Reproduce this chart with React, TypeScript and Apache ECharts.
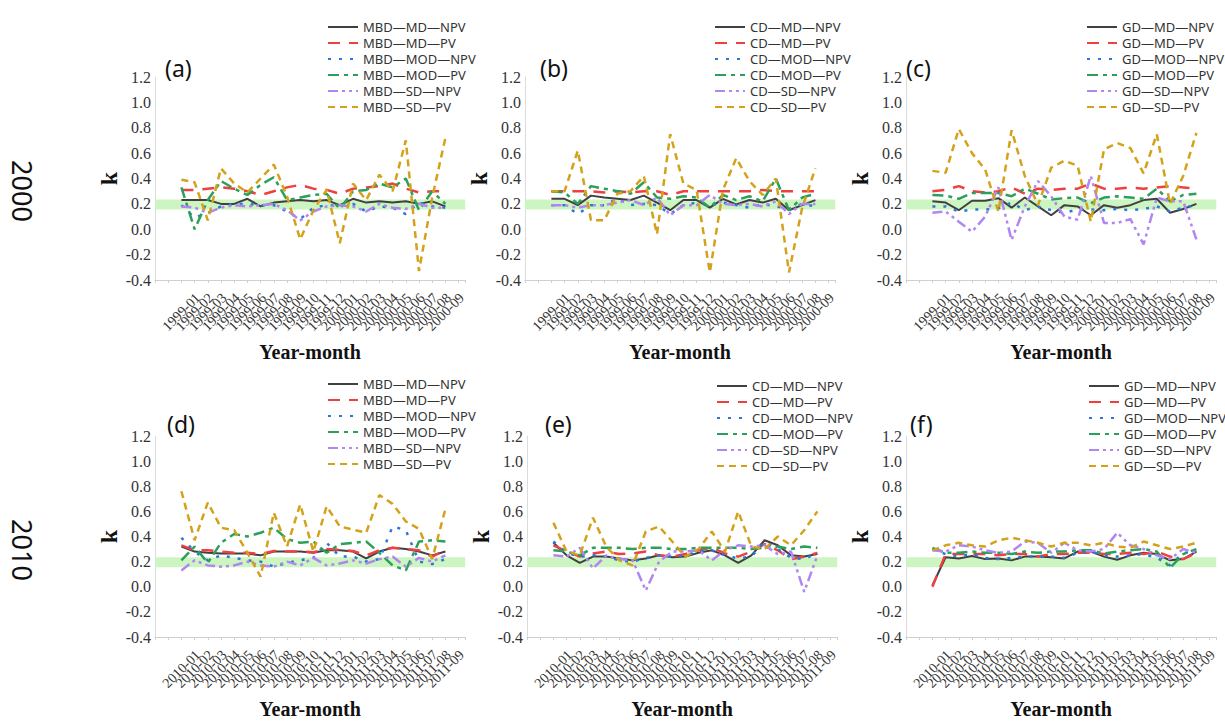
import React, { useEffect, useRef } from "react";
import * as echarts from "echarts";

const cats2000 = ["1999-01","1999-02","1999-03","1999-04","1999-05","1999-06","1999-07","1999-08","1999-09","1999-10","1999-11","1999-12","2000-01","2000-02","2000-03","2000-04","2000-05","2000-06","2000-07","2000-08","2000-09"];
const cats2010 = ["2010-01","2010-02","2010-03","2010-04","2010-05","2010-06","2010-07","2010-08","2010-09","2010-10","2010-11","2010-12","2011-01","2011-02","2011-03","2011-04","2011-05","2011-06","2011-07","2011-08","2011-09"];
const yTicks = [-0.4, -0.2, 0.0, 0.2, 0.4, 0.6, 0.8, 1.0, 1.2];
const suffixes = ["MD—NPV", "MD—PV", "MOD—NPV", "MOD—PV", "SD—NPV", "SD—PV"];
const bandRange = [0.155, 0.235];

// (a) MBD 2000
const aMdNpv = [0.23,0.23,0.23,0.20,0.20,0.24,0.18,0.21,0.22,0.23,0.22,0.23,0.19,0.24,0.21,0.22,0.21,0.22,0.20,0.22,0.18];
const aMdPv = [0.31,0.31,0.32,0.33,0.32,0.30,0.27,0.30,0.33,0.35,0.32,0.31,0.28,0.32,0.33,0.34,0.36,0.32,0.29,0.30,0.30];
const aModNpv = [0.19,0.09,0.13,0.18,0.20,0.20,0.19,0.19,0.14,0.08,0.17,0.19,0.19,0.20,0.14,0.18,0.17,0.12,0.21,0.18,0.17];
const aModPv = [0.33,0.00,0.23,0.38,0.32,0.27,0.35,0.41,0.23,0.25,0.27,0.28,0.16,0.30,0.31,0.36,0.33,0.40,0.15,0.30,0.20];
const aSdNpv = [0.18,0.17,0.13,0.17,0.19,0.18,0.19,0.20,0.15,0.07,0.14,0.18,0.19,0.18,0.14,0.20,0.17,0.16,0.20,0.17,0.17];
const aSdPv = [0.39,0.37,0.07,0.48,0.36,0.29,0.40,0.51,0.26,-0.08,0.15,0.31,-0.11,0.36,0.23,0.43,0.30,0.70,-0.33,0.25,0.72];

// (b) CD 2000
const bMdNpv = [0.24,0.24,0.19,0.265,0.25,0.24,0.23,0.265,0.21,0.15,0.23,0.23,0.17,0.24,0.195,0.23,0.21,0.24,0.15,0.19,0.23];
const bMdPv = [0.30,0.30,0.30,0.30,0.29,0.30,0.29,0.30,0.30,0.27,0.30,0.30,0.30,0.30,0.30,0.30,0.31,0.30,0.30,0.30,0.30];
const bModNpv = [0.19,0.19,0.12,0.19,0.19,0.24,0.19,0.20,0.19,0.12,0.19,0.21,0.19,0.21,0.19,0.17,0.20,0.18,0.16,0.20,0.18];
const bModPv = [0.30,0.29,0.20,0.34,0.32,0.30,0.28,0.37,0.25,0.24,0.26,0.25,0.17,0.27,0.23,0.26,0.22,0.40,0.15,0.25,0.28];
const bSdNpv = [0.19,0.19,0.17,0.19,0.19,0.21,0.23,0.19,0.25,0.11,0.19,0.19,0.27,0.20,0.19,0.20,0.18,0.22,0.12,0.20,0.20];
const bSdPv = [0.30,0.30,0.62,0.07,0.07,0.28,0.30,0.42,-0.04,0.75,0.36,0.31,-0.34,0.31,0.56,0.38,0.27,0.40,-0.34,0.17,0.48];

// (c) GD 2000
const cMdNpv = [0.22,0.21,0.15,0.225,0.225,0.245,0.17,0.25,0.18,0.11,0.19,0.18,0.11,0.19,0.17,0.19,0.23,0.24,0.13,0.16,0.20];
const cMdPv = [0.30,0.31,0.34,0.30,0.29,0.30,0.33,0.28,0.32,0.31,0.32,0.32,0.36,0.32,0.32,0.33,0.32,0.33,0.34,0.33,0.32];
const cModNpv = [0.18,0.18,0.14,0.155,0.155,0.165,0.21,0.15,0.18,0.15,0.13,0.155,0.155,0.15,0.16,0.15,0.16,0.18,0.14,0.17,0.19];
const cModPv = [0.27,0.265,0.24,0.285,0.285,0.285,0.26,0.32,0.28,0.235,0.245,0.25,0.205,0.25,0.26,0.25,0.24,0.32,0.22,0.27,0.28];
const cSdNpv = [0.13,0.14,0.06,-0.02,0.10,0.33,-0.085,0.18,0.38,0.26,0.10,0.075,0.42,0.05,0.05,0.08,-0.12,0.25,0.22,0.22,-0.08];
const cSdPv = [0.46,0.445,0.79,0.60,0.47,0.14,0.78,0.42,0.19,0.485,0.54,0.50,0.06,0.63,0.68,0.64,0.44,0.75,0.20,0.42,0.76];

// (d) MBD 2010
const dMdNpv = [0.32,0.28,0.27,0.265,0.265,0.265,0.25,0.28,0.28,0.28,0.27,0.29,0.29,0.28,0.225,0.28,0.31,0.30,0.28,0.25,0.28];
const dMdPv = [0.33,0.29,0.29,0.28,0.27,0.27,0.26,0.285,0.28,0.28,0.275,0.30,0.295,0.285,0.25,0.29,0.31,0.30,0.29,0.24,0.29];
const dModNpv = [0.39,0.28,0.21,0.25,0.23,0.21,0.20,0.16,0.19,0.21,0.23,0.35,0.24,0.24,0.20,0.22,0.48,0.45,0.20,0.18,0.22];
const dModPv = [0.21,0.32,0.19,0.35,0.42,0.40,0.43,0.47,0.38,0.35,0.36,0.27,0.34,0.35,0.36,0.27,0.17,0.13,0.36,0.37,0.36];
const dSdNpv = [0.13,0.21,0.17,0.16,0.17,0.20,0.17,0.16,0.20,0.17,0.23,0.17,0.185,0.21,0.185,0.22,0.24,0.16,0.23,0.20,0.25];
const dSdPv = [0.76,0.37,0.67,0.47,0.45,0.27,0.08,0.59,0.32,0.655,0.28,0.64,0.48,0.455,0.43,0.73,0.66,0.52,0.46,0.22,0.62];

// (e) CD 2010
const eMdNpv = [0.35,0.25,0.19,0.24,0.24,0.225,0.21,0.225,0.25,0.235,0.24,0.27,0.29,0.25,0.19,0.25,0.37,0.33,0.25,0.24,0.26];
const eMdPv = [0.33,0.28,0.24,0.265,0.28,0.26,0.265,0.28,0.25,0.24,0.26,0.29,0.31,0.265,0.24,0.28,0.34,0.29,0.22,0.24,0.27];
const eModNpv = [0.36,0.27,0.24,0.25,0.24,0.21,0.20,0.23,0.25,0.24,0.25,0.28,0.29,0.25,0.225,0.24,0.36,0.30,0.23,0.22,0.27];
const eModPv = [0.29,0.28,0.25,0.31,0.31,0.31,0.30,0.31,0.31,0.30,0.30,0.31,0.31,0.31,0.31,0.30,0.31,0.32,0.30,0.32,0.31];
const eSdNpv = [0.25,0.24,0.31,0.145,0.25,0.22,0.21,-0.03,0.20,0.28,0.28,0.29,0.21,0.29,0.33,0.32,0.33,0.26,0.28,-0.04,0.25];
const eSdPv = [0.51,0.28,0.25,0.55,0.32,0.21,0.17,0.44,0.48,0.36,0.24,0.30,0.44,0.28,0.60,0.32,0.30,0.40,0.33,0.45,0.60];

// (f) GD 2010
const fMdNpv = [0.01,0.235,0.225,0.245,0.22,0.225,0.21,0.24,0.24,0.235,0.225,0.28,0.28,0.24,0.215,0.25,0.27,0.26,0.21,0.22,0.28];
const fMdPv = [0.00,0.26,0.26,0.26,0.26,0.25,0.26,0.26,0.24,0.26,0.26,0.27,0.27,0.26,0.26,0.27,0.26,0.28,0.24,0.22,0.27];
const fModNpv = [0.30,0.26,0.24,0.26,0.23,0.22,0.23,0.24,0.24,0.24,0.23,0.27,0.28,0.25,0.24,0.25,0.26,0.23,0.17,0.27,0.28];
const fModPv = [0.31,0.27,0.27,0.28,0.27,0.27,0.26,0.28,0.27,0.28,0.28,0.29,0.29,0.265,0.28,0.29,0.30,0.28,0.15,0.26,0.30];
const fSdNpv = [0.29,0.28,0.33,0.32,0.29,0.27,0.28,0.36,0.35,0.27,0.35,0.29,0.28,0.30,0.43,0.33,0.30,0.25,0.22,0.30,0.27];
const fSdPv = [0.29,0.33,0.35,0.33,0.32,0.37,0.39,0.37,0.35,0.32,0.35,0.35,0.33,0.35,0.32,0.31,0.36,0.33,0.30,0.32,0.35];

const panels = [
  { label: "(a)", prefix: "MBD", cats: cats2000, data: [aMdNpv, aMdPv, aModNpv, aModPv, aSdNpv, aSdPv], left: 155, top: 77, height: 203, legendLeft: 322, legendTop: 15, labelX: 165, labelY: 68 },
  { label: "(b)", prefix: "CD", cats: cats2000, data: [bMdNpv, bMdPv, bModNpv, bModPv, bSdNpv, bSdPv], left: 525, top: 77, height: 203, legendLeft: 709, legendTop: 15, labelX: 540, labelY: 68 },
  { label: "(c)", prefix: "GD", cats: cats2000, data: [cMdNpv, cMdPv, cModNpv, cModPv, cSdNpv, cSdPv], left: 906, top: 77, height: 203, legendLeft: 1081, legendTop: 15, labelX: 906, labelY: 68 },
  { label: "(d)", prefix: "MBD", cats: cats2010, data: [dMdNpv, dMdPv, dModNpv, dModPv, dSdNpv, dSdPv], left: 155, top: 436, height: 201, legendLeft: 322, legendTop: 372, labelX: 167, labelY: 424 },
  { label: "(e)", prefix: "CD", cats: cats2010, data: [eMdNpv, eMdPv, eModNpv, eModPv, eSdNpv, eSdPv], left: 527, top: 436, height: 201, legendLeft: 711, legendTop: 374, labelX: 545, labelY: 424 },
  { label: "(f)", prefix: "GD", cats: cats2010, data: [fMdNpv, fMdPv, fModNpv, fModPv, fSdNpv, fSdPv], left: 906, top: 436, height: 201, legendLeft: 1083, legendTop: 374, labelX: 910, labelY: 424 },
];

const lineStyles = [
  { color: "#404040", width: 2, type: "solid" as any },
  { color: "#ef4040", width: 2.5, type: [12, 9] },
  { color: "#2b78d4", width: 2.5, type: [3, 8] },
  { color: "#2aa05a", width: 2.5, type: [11, 5, 4, 5] },
  { color: "#b286f0", width: 2.5, type: [10, 4, 3, 4, 3, 4] },
  { color: "#d4a21a", width: 2.5, type: [7, 5] },
];

const serif = "'Liberation Serif', 'Times New Roman', serif";
const sans = "'Noto Sans', 'Open Sans', sans-serif";
const STEP = 13.2;
const XMIN = -2;
const XMAX = 21.5;

export default function App() {
  const ref = useRef<HTMLDivElement>(null);
  useEffect(() => {
    if (!ref.current) return;
    const chart = echarts.init(ref.current, null, { renderer: "svg" });
    const width = (XMAX - XMIN) * STEP;
    const grid = panels.map((p) => ({ left: p.left, top: p.top, width, height: p.height }));
    const xAxis = panels.map((p, k) => ({
      type: "value",
      gridIndex: k,
      min: XMIN,
      max: XMAX,
      interval: 1,
      name: "Year-month",
      nameLocation: "middle",
      nameGap: 62,
      nameTextStyle: { fontFamily: serif, fontWeight: "bold", fontSize: 20, color: "#111" },
      axisLine: { onZero: false, lineStyle: { color: "#cfcfcf", width: 1 } },
      axisTick: { show: true, length: 3, lineStyle: { color: "#cfcfcf" } },
      splitLine: { show: false },
      axisLabel: {
        rotate: 45,
        margin: 32,
        align: "center",
        verticalAlign: "middle",
        fontFamily: serif,
        fontSize: 14,
        color: "#333",
        lineHeight: 12,
        formatter: (v: number) => {
          const i = Math.round(v);
          return Math.abs(v - i) < 1e-6 && i >= 0 && i < p.cats.length ? p.cats[i] : "";
        },
      },
    }));
    const yAxis = panels.map((p, k) => ({
      type: "value",
      gridIndex: k,
      min: yTicks[0],
      max: yTicks[yTicks.length - 1],
      interval: 0.2,
      name: "k",
      nameLocation: "middle",
      nameGap: 34,
      nameRotate: 90,
      nameTextStyle: { fontFamily: serif, fontWeight: "bold", fontSize: 24, color: "#111" },
      axisLine: { show: true, onZero: false, lineStyle: { color: "#dcdcdc", width: 1 } },
      axisTick: { show: false },
      splitLine: { show: false },
      axisLabel: {
        margin: 4,
        fontFamily: serif,
        fontSize: 16,
        color: "#333",
        formatter: (v: number) => (Math.abs(v) < 1e-9 ? "0.0" : v.toFixed(1)),
      },
    }));
    const series: any[] = [];
    const legend: any[] = [];
    panels.forEach((p, k) => {
      const names = suffixes.map((s) => `${p.prefix}—${s}`);
      names.forEach((name, s) => {
        const ls = lineStyles[s];
        const item: any = {
          type: "line",
          name,
          xAxisIndex: k,
          yAxisIndex: k,
          data: p.data[s].map((v, i) => [i, v]),
          symbol: "none",
          showSymbol: false,
          lineStyle: { color: ls.color, width: ls.width, type: ls.type },
          itemStyle: { color: ls.color },
          z: 2 + s,
        };
        if (s === 0) {
          item.markArea = {
            silent: true,
            itemStyle: { color: "#cdf5c2", opacity: 1 },
            data: [[{ yAxis: bandRange[0] }, { yAxis: bandRange[1] }]],
          };
        }
        series.push(item);
      });
      legend.push({
        data: names,
        orient: "vertical",
        left: p.legendLeft,
        top: p.legendTop,
        itemWidth: 30,
        itemHeight: 14,
        itemGap: 2,
        selectedMode: false,
        itemStyle: { opacity: 0 },
        textStyle: { fontFamily: sans, fontSize: 13, color: "#333", lineHeight: 14 },
      });
    });
    const graphic: any[] = panels.map((p) => ({
      type: "text",
      x: p.labelX,
      y: p.labelY,
      style: { text: p.label, fontFamily: sans, fontSize: 23, fill: "#111", verticalAlign: "middle", align: "left" },
    }));
    graphic.push({
      type: "text", x: 22, y: 191, rotation: -Math.PI / 2,
      style: { text: "2000", fontFamily: sans, fontSize: 27, fill: "#111", align: "center", verticalAlign: "middle" },
    });
    graphic.push({
      type: "text", x: 22, y: 550, rotation: -Math.PI / 2,
      style: { text: "2010", fontFamily: sans, fontSize: 27, fill: "#111", align: "center", verticalAlign: "middle" },
    });
    chart.setOption({
      animation: false,
      backgroundColor: "#ffffff",
      grid,
      xAxis,
      yAxis,
      legend,
      series,
      graphic,
    });
    return () => chart.dispose();
  }, []);
  return <div ref={ref} style={{ position: "fixed", left: 0, top: 0, width: 1225, height: 722 }} />;
}
